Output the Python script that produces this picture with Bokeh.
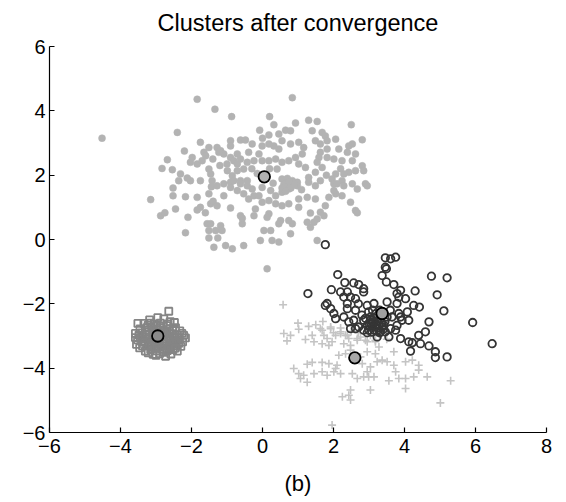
from bokeh.plotting import figure
from bokeh.models import FixedTicker, CustomJSTickFormatter
from bokeh.embed import file_html
from bokeh.resources import INLINE

title_text = "Clusters after convergence"
xlabel_text = "(b)"
x_ticks = [-6, -4, -2, 0, 2, 4, 6, 8]
y_ticks = [-6, -4, -2, 0, 2, 4, 6]

# cluster 1: filled gray dots
dots_pts = [
    (-4.52, 3.15), (-1.84, 4.36), (-1.34, 4.05), (-0.87, 3.82), (-2.40, 3.33), (0.84, 4.41), (0.20, 3.82),
    (-1.75, 3.02), (-1.51, 2.86), (-1.65, 2.71), (-1.28, 2.86), (-1.18, 2.76), (-1.09, 2.66), (-1.23, 2.71),
    (-0.90, 3.07), (-0.90, 2.91), (-0.62, 3.09), (-0.48, 3.09), (-0.29, 2.97), (-0.39, 2.71), (-0.71, 2.66),
    (-0.90, 2.55), (-0.81, 2.45), (-0.62, 2.50), (-0.71, 2.35), (-0.43, 2.40), (-0.24, 2.45), (-1.98, 2.55),
    (-2.03, 2.40), (-1.84, 2.35), (-1.70, 2.45), (-1.51, 2.19), (-1.46, 2.04), (-1.75, 1.83), (-1.42, 1.83),
    (-2.03, 1.83), (-2.12, 1.91), (-2.36, 1.83), (-2.31, 2.04), (-2.54, 2.17), (-2.83, 2.21), (-2.68, 2.48),
    (-0.99, 2.14), (-0.85, 1.98), (-0.71, 2.14), (-0.53, 2.19), (-0.43, 1.83), (-0.62, 1.83), (-0.90, 1.78),
    (-1.09, 1.73),
    (-0.08, 3.40), (0.32, 3.57), (0.18, 3.25), (0.46, 3.28), (0.65, 3.40), (0.79, 3.38), (0.93, 3.62),
    (1.30, 3.71), (1.54, 3.67), (1.40, 3.38), (1.68, 3.33), (1.77, 3.22), (1.82, 3.07), (1.63, 2.97),
    (1.49, 3.07), (2.06, 3.12), (2.50, 3.57), (2.81, 3.10), (2.43, 2.91), (2.53, 2.97), (2.62, 2.66),
    (2.39, 2.71), (2.15, 2.81), (1.82, 2.81), (1.63, 2.71), (1.59, 2.55), (1.54, 2.40), (1.68, 2.24),
    (1.82, 2.55), (2.01, 2.50), (2.24, 2.45), (2.53, 2.45), (2.81, 2.29), (2.85, 2.14), (2.62, 2.14),
    (2.43, 2.09), (2.29, 2.04), (2.06, 2.04), (1.96, 1.88), (1.63, 1.83), (1.49, 2.09), (1.30, 1.93),
    (1.21, 2.24), (1.02, 2.35), (0.93, 2.55), (1.12, 2.66), (1.16, 2.86), (1.02, 3.02), (0.79, 2.97),
    (0.55, 3.07), (0.46, 2.81), (0.32, 2.91), (0.18, 2.97), (-0.01, 2.91), (-0.10, 2.66), (-0.01, 2.45),
    (0.18, 2.45), (0.37, 2.50), (0.55, 2.40), (0.74, 2.45), (0.41, 2.19), (0.55, 1.88), (0.84, 1.83),
    (0.98, 1.78), (1.30, 1.78), (2.01, 1.73), (2.24, 1.83), (2.90, 1.73),
    (-1.75, 1.00), (-1.61, 0.83), (-1.51, 1.42), (-1.46, 1.11), (-1.39, 1.19), (-1.28, 1.05), (-1.44, 1.64),
    (-1.28, 1.67), (-1.09, 1.36), (-0.90, 0.98), (-0.62, 0.74), (-0.57, 0.49), (-0.57, 0.66), (-0.24, 0.74),
    (-1.56, 0.49), (-1.46, 0.49), (-1.51, 0.28), (-1.32, 0.28), (-1.18, 0.43), (-1.14, 0.28), (-1.51, 0.05),
    (-1.26, 0.05), (-1.37, -0.24), (-1.04, -0.19), (-0.85, -0.29), (-0.53, -0.19), (-3.15, 1.24),
    (-2.87, 0.74), (-2.75, 0.83), (-2.45, 0.95), (-2.17, 0.21), (-2.10, 0.69), (-2.52, 1.36), (-2.52, 1.60),
    (-2.17, 1.33), (-1.84, 1.31), (-1.84, 0.92), (-0.90, 1.62), (-0.71, 1.52), (-0.53, 1.42), (-0.39, 1.26),
    (-0.24, 1.36), (-0.62, 1.73), (-0.43, 1.67), (-0.29, 1.57), (-0.81, 1.83),
    (0.65, 1.73), (0.84, 1.78), (0.98, 1.67), (0.74, 1.57), (0.55, 1.47), (0.37, 1.36), (0.23, 1.52),
    (-0.01, 1.62), (-0.10, 1.36), (-0.01, 1.16), (0.18, 1.21), (0.37, 1.11), (0.55, 1.05), (0.74, 1.11),
    (1.02, 1.26), (1.02, 1.00), (1.26, 1.31), (1.49, 1.26), (1.49, 1.67), (1.77, 1.05), (1.87, 1.31),
    (2.06, 1.42), (2.01, 1.52), (2.24, 1.36), (2.10, 1.73), (2.29, 1.67), (2.53, 1.73), (2.67, 1.57),
    (2.95, 1.67), (2.48, 1.16), (2.62, 0.90), (2.67, 0.83), (1.63, 0.85), (1.73, 0.74), (1.35, 0.82),
    (1.54, 0.64), (1.45, 0.54), (1.35, 0.38), (1.26, 0.54), (0.84, 0.49), (0.74, 0.59), (0.51, 0.59),
    (0.46, 0.49), (0.18, 0.80), (0.13, 0.69), (0.04, 0.28), (0.23, 0.28), (-0.06, -0.03), (0.27, -0.03),
    (0.46, -0.08), (0.79, 0.18), (1.54, -0.03), (0.13, -0.91),
    (0.60, 1.70), (0.70, 1.90), (0.80, 1.60), (0.55, 1.60), (0.75, 1.80), (0.90, 1.70), (0.65, 1.50),
    (-1.60, 2.60), (-1.40, 2.50), (-1.20, 2.30), (-1.00, 2.35), (-0.30, 2.20), (-0.15, 2.05), (0.20, 2.20),
    (0.30, 1.75), (1.10, 1.55), (1.80, 2.00), (2.20, 2.20), (0.00, 3.15), (-2.20, 2.75), (-0.20, 0.95),
]

# cluster 2: open dark circles
rings_pts = [
    (1.77, -0.16), (1.28, -1.68), (1.94, -1.56), (2.12, -1.09), (2.32, -1.34), (2.57, -1.35), (2.71, -1.40),
    (2.85, -1.53), (2.85, -1.63), (2.20, -1.63), (2.39, -1.63), (2.29, -1.79), (2.48, -1.79), (2.62, -1.84),
    (3.46, -0.57), (3.61, -0.60), (3.75, -0.55), (3.46, -0.86), (3.49, -0.91), (3.37, -1.12), (3.49, -1.32),
    (3.79, -1.68), (3.89, -1.58), (3.84, -1.79), (4.03, -1.84), (4.26, -2.05), (4.42, -2.10), (4.76, -1.14),
    (5.20, -1.19), (4.92, -1.72), (5.11, -2.22), (5.92, -2.58), (6.47, -3.24), (4.69, -2.56), (4.59, -2.87),
    (4.40, -2.98), (4.12, -3.18), (4.22, -3.21), (4.45, -3.24), (4.17, -3.47), (4.69, -3.31), (4.87, -3.49),
    (5.20, -3.65), (4.87, -3.67), (1.82, -1.99), (1.77, -2.05), (1.92, -2.15), (2.01, -2.30), (2.06, -2.46),
    (2.29, -2.41), (2.43, -2.56), (2.57, -2.51), (2.62, -2.20), (2.39, -2.15), (2.39, -1.99), (2.95, -2.05),
    (3.14, -1.99), (2.99, -2.25), (3.04, -2.41), (2.85, -2.51), (2.95, -2.67), (3.09, -2.56), (3.23, -2.56),
    (3.32, -2.46), (3.51, -1.94), (3.79, -1.99), (3.84, -2.30), (3.93, -2.51), (4.08, -2.25), (4.12, -2.51),
    (3.79, -2.67), (3.75, -2.82), (3.89, -3.08), (3.61, -2.77), (3.46, -2.87), (3.32, -2.87), (3.23, -3.03),
    (3.56, -3.03), (3.14, -2.82), (2.71, -2.72), (2.62, -2.77), (2.48, -2.77), (2.85, -2.82), (2.99, -2.82),
    (3.51, -2.41), (3.89, -2.41), (3.65, -2.41), (3.42, -2.67), (3.00, -2.60), (3.10, -2.70), (3.20, -2.65),
    (3.25, -2.75), (3.35, -2.60), (3.05, -2.50), (3.15, -2.45), (3.30, -2.90), (3.40, -2.80), (2.95, -2.90),
    (3.20, -2.30), (3.30, -2.20), (3.10, -2.20),
    (3.05, -2.62), (3.12, -2.58), (3.18, -2.72), (3.28, -2.68), (3.38, -2.72), (3.22, -2.85), (3.08, -2.88),
    (3.45, -2.55), (2.90, -2.45), (2.80, -2.35), (2.70, -2.00), (3.60, -2.20), (3.70, -1.40), (4.30, -1.60),
]

# cluster 3: light gray crosses
cross_pts = [
    (0.58, -2.03), (0.60, -2.92), (0.79, -2.98), (0.69, -3.15), (1.02, -2.79), (1.21, -3.11), (1.40, -2.98),
    (1.45, -3.18), (1.63, -2.77), (1.73, -2.98), (1.68, -3.24), (1.92, -2.72), (1.82, -3.08), (1.96, -3.18),
    (2.06, -2.98), (1.87, -3.29), (2.20, -2.92), (2.34, -2.98), (2.43, -3.08), (2.29, -3.24), (2.48, -3.29),
    (2.67, -3.13), (2.76, -3.03), (2.95, -3.18), (3.04, -2.98), (3.18, -3.13), (2.15, -3.60), (2.34, -3.55),
    (2.48, -3.44), (2.76, -3.65), (2.95, -3.49), (3.18, -3.55), (3.28, -3.34), (3.70, -3.49), (3.23, -3.80),
    (3.37, -3.75), (3.51, -3.80), (3.70, -3.91), (3.04, -3.96), (2.95, -4.11), (2.81, -3.86), (0.88, -4.01),
    (1.26, -3.88), (1.40, -3.82), (1.68, -3.82), (1.87, -3.86), (2.10, -3.91), (2.01, -4.11), (2.06, -4.01),
    (2.20, -4.17), (1.82, -4.22), (1.68, -4.11), (1.45, -4.17), (1.16, -4.22), (1.02, -4.17), (1.07, -4.32),
    (1.26, -4.44), (2.53, -4.17), (2.67, -4.32), (2.85, -4.27), (2.99, -4.27), (3.14, -4.27), (3.56, -4.39),
    (3.75, -4.11), (3.84, -4.32), (4.03, -4.32), (4.26, -4.27), (4.64, -4.27), (5.30, -4.39), (4.03, -4.63),
    (3.04, -4.68), (2.48, -4.68), (2.43, -4.84), (2.25, -4.89), (2.48, -4.99), (5.01, -5.08), (4.03, -3.80),
    (4.22, -3.75), (4.40, -3.91), (4.40, -4.06), (1.96, -5.77), (1.68, -2.82), (1.92, -2.77), (2.20, -2.87),
    (2.39, -2.98), (2.67, -3.08), (2.90, -3.13), (3.18, -3.18), (1.00, -2.60), (1.30, -2.70), (1.50, -2.65),
    (1.70, -2.55), (2.20, -2.75), (2.50, -2.85), (2.70, -2.90), (3.30, -3.00), (3.50, -3.10), (2.00, -2.90),
]

# cluster 4: dense open squares
square_pts = [
    (-2.64, -2.23), (-2.95, -2.43), (-3.18, -2.50), (-2.78, -2.47), (-2.60, -2.55), (-3.34, -2.61),
    (-3.51, -2.61), (-2.48, -2.58), (-3.22, -2.66), (-3.05, -2.62), (-2.88, -2.60), (-2.70, -2.68),
    (-3.58, -2.92), (-3.45, -2.78), (-3.30, -2.82), (-3.12, -2.76), (-2.96, -2.80), (-2.79, -2.83),
    (-2.62, -2.78), (-2.45, -2.74), (-2.33, -2.84), (-3.48, -2.97), (-3.36, -3.02), (-3.20, -2.94),
    (-3.03, -2.98), (-2.87, -2.95), (-2.71, -2.99), (-2.55, -2.93), (-2.40, -2.97), (-2.27, -2.92),
    (-2.17, -3.06), (-3.52, -3.12), (-3.40, -3.17), (-3.25, -3.10), (-3.08, -3.14), (-2.93, -3.10),
    (-2.77, -3.15), (-2.62, -3.09), (-2.47, -3.14), (-2.39, -3.13), (-2.25, -3.18), (-3.55, -3.26),
    (-3.38, -3.31), (-3.22, -3.27), (-3.06, -3.30), (-2.90, -3.25), (-2.74, -3.31), (-2.58, -3.27),
    (-2.43, -3.30), (-2.30, -3.32), (-3.30, -3.47), (-3.15, -3.42), (-2.99, -3.46), (-2.84, -3.40),
    (-2.68, -3.45), (-2.52, -3.42), (-2.40, -3.47), (-3.08, -3.57), (-2.90, -3.55), (-2.73, -3.63),
    (-2.58, -3.56), (-3.00, -3.05), (-2.85, -3.02), (-3.10, -2.88), (-2.70, -2.88), (-2.95, -3.20),
    (-3.15, -3.22), (-2.80, -2.70), (-3.40, -2.90), (-2.50, -3.05),
    (-3.26, -2.74), (-3.15, -2.60), (-2.98, -2.70), (-2.86, -2.75), (-2.66, -2.62), (-2.53, -2.83),
    (-3.44, -3.07), (-3.30, -2.97), (-3.17, -3.04), (-3.06, -2.92), (-2.93, -2.87), (-2.78, -2.93),
    (-2.63, -3.01), (-2.48, -3.02), (-2.34, -3.05), (-3.46, -3.37), (-3.31, -3.20), (-3.12, -3.33),
    (-2.97, -3.37), (-2.82, -3.20), (-2.68, -3.22), (-2.52, -3.20), (-2.36, -3.23), (-3.22, -3.52),
    (-2.77, -3.51), (-2.62, -3.37), (-2.46, -3.38), (-3.00, -3.60), (-3.58, -3.05), (-2.22, -2.98),
]

# centroids
centroid_x = [0.05, 3.37, 2.60, -2.95]
centroid_y = [1.95, -2.30, -3.68, -3.00]
centroid_fill = ["#b0b0b0", "#a0a0a0", "#a8a8a8", "#8a8a8a"]

FONT = "Liberation Sans"

p = figure(width=566, height=502, x_range=(-6, 8), y_range=(-6, 6),
           output_backend="svg", toolbar_location=None,
           min_border_left=49, min_border_right=20, min_border_top=45, min_border_bottom=70)
p.background_fill_color = "white"
p.border_fill_color = "white"
p.outline_line_color = None
p.grid.visible = False

p.title.text = title_text
p.title.align = "center"
p.title.vertical_align = "top"
p.title.text_font = FONT
p.title.text_font_size = "23.5px"
p.title.text_font_style = "normal"
p.title.text_color = "black"
p.title.standoff = 18

fmt = CustomJSTickFormatter(code="return tick < 0 ? '\u2212' + Math.abs(tick) : String(tick);")
p.xaxis.ticker = FixedTicker(ticks=x_ticks)
p.yaxis.ticker = FixedTicker(ticks=y_ticks)
p.xaxis.formatter = fmt
p.yaxis.formatter = fmt
p.xaxis.axis_label = xlabel_text
p.xaxis.axis_label_text_font = FONT
p.xaxis.axis_label_text_font_size = "22px"
p.xaxis.axis_label_text_font_style = "normal"
p.xaxis.axis_label_text_color = "black"
p.xaxis.axis_label_standoff = 15
for ax in (p.xaxis, p.yaxis):
    ax.major_label_text_font = FONT
    ax.major_label_text_font_size = "20px"
    ax.major_label_text_color = "black"
    ax.axis_line_color = "black"
    ax.axis_line_width = 1.2
    ax.major_tick_line_color = "black"
    ax.major_tick_line_width = 1.2
    ax.major_tick_in = 5
    ax.major_tick_out = 0
    ax.minor_tick_line_color = None
p.xaxis.major_label_standoff = 6
p.yaxis.major_label_standoff = 4

p.scatter([a for a, b in dots_pts], [b for a, b in dots_pts], marker="circle", size=7,
          fill_color="#b3b3b3", line_color="#b3b3b3", line_width=0.5)
p.scatter([a for a, b in square_pts], [b for a, b in square_pts], marker="square", size=7,
          fill_color=None, line_color="#858585", line_width=1.8)
p.scatter([a for a, b in cross_pts], [b for a, b in cross_pts], marker="cross", size=8,
          line_color="#c4c4c4", line_width=1.6)
p.scatter([a for a, b in rings_pts], [b for a, b in rings_pts], marker="circle", size=7.5,
          fill_color=None, line_color="#353535", line_width=1.8)
p.scatter(centroid_x, centroid_y, marker="circle", size=11.5,
          fill_color=centroid_fill, line_color="black", line_width=1.8)

open("out.html", "w").write(file_html(p, INLINE))
